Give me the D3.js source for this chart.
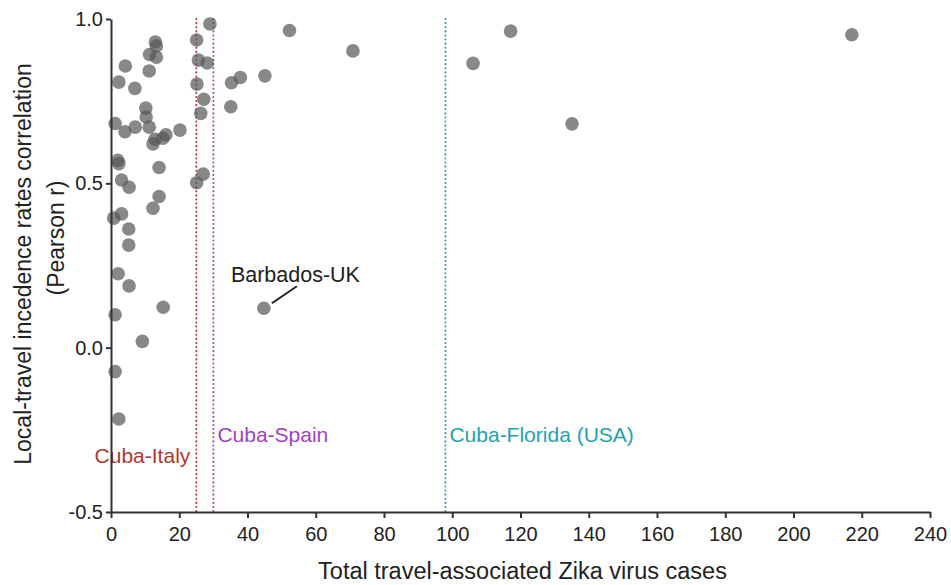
<!DOCTYPE html>
<html lang="en">
<head>
<meta charset="utf-8">
<title>Travel-associated Zika cases vs correlation</title>
<script src="https://cdn.jsdelivr.net/npm/d3@7"></script>
<style>
  body { margin: 0; background: #fff; }
  text { font-family: "Liberation Sans", Arial, Helvetica, sans-serif; fill: #222; }
</style>
</head>
<body>
<script>
// Data: x = total travel-associated cases, y = Pearson r
var cases = [13.0, 13.3, 11.3, 13.3, 4.2, 11.2, 2.3, 7.0, 10.2, 10.3,
             1.2, 4.1, 7.1, 11.2, 16.1, 20.2, 12.9, 15.2, 12.3, 2.0,
             2.3, 14.1, 3.1, 5.3, 14.1, 12.3, 3.1, 0.8, 5.2, 5.2,
             2.1, 5.3, 15.3, 1.2, 9.2, 1.2, 2.3,
             29.0, 25.1, 25.6, 28.2, 25.2, 27.2, 26.3, 27.0, 25.1,
             35.3, 37.9, 35.1, 45.1, 52.3, 70.9, 44.8, 106.1, 117.1, 135.1, 217.1];
var pearson = [0.930, 0.918, 0.892, 0.884, 0.857, 0.842, 0.808, 0.789, 0.729, 0.702,
               0.682, 0.657, 0.671, 0.671, 0.648, 0.662, 0.634, 0.637, 0.620, 0.570,
               0.560, 0.548, 0.510, 0.488, 0.460, 0.424, 0.407, 0.394, 0.361, 0.312,
               0.225, 0.188, 0.123, 0.100, 0.019, -0.073, -0.217,
               0.985, 0.936, 0.875, 0.866, 0.802, 0.756, 0.713, 0.528, 0.502,
               0.806, 0.822, 0.733, 0.827, 0.965, 0.903, 0.120, 0.865, 0.963, 0.681, 0.952];

// reference lines (cases)
var refNames = ["Cuba-Italy", "Cuba-Spain", "Cuba-Florida (USA)"];
var refCases = [25, 30, 98];
var refColors = ["#b0372c", "#a43fc4", "#1fa3b3"];

var xTicks = [0, 20, 40, 60, 80, 100, 120, 140, 160, 180, 200, 220, 240];
var yTicks = [-0.5, 0.0, 0.5, 1.0];

var w = 951, h = 585;
var margin = {top: 19, right: 21, bottom: 73, left: 111};

var svg = d3.select("body").append("svg")
  .attr("width", w)
  .attr("height", h);

var x = d3.scaleLinear().domain([0, 240]).range([margin.left, w - margin.right]);
var y = d3.scaleLinear().domain([-0.5, 1.0]).range([h - margin.bottom, margin.top]);

// dotted reference lines
var refs = svg.append("g");
refCases.forEach(function(c, i) {
  refs.append("line")
    .attr("x1", x(c)).attr("x2", x(c))
    .attr("y1", y(1.0)).attr("y2", y(-0.5))
    .attr("stroke", refColors[i])
    .attr("stroke-width", 2)
    .attr("stroke-linecap", "round")
    .attr("stroke-dasharray", "0.1,4");
});

// reference line labels
var labelY = [463, 442, 442];
refNames.forEach(function(n, i) {
  refs.append("text")
    .attr("x", i === 0 ? x(refCases[i]) - 6 : x(refCases[i]) + 4)
    .attr("y", labelY[i])
    .attr("text-anchor", i === 0 ? "end" : "start")
    .style("font-size", "21px")
    .style("fill", refColors[i])
    .text(n);
});

// points
svg.append("g").selectAll("circle")
  .data(d3.range(cases.length))
  .enter()
  .append("circle")
  .attr("cx", function(i) { return x(cases[i]); })
  .attr("cy", function(i) { return y(pearson[i]); })
  .attr("r", 6.8)
  .attr("fill", "#555")
  .attr("fill-opacity", 0.7);

// Barbados-UK annotation
var bx = 44.8, by = 0.120;
svg.append("line")
  .attr("x1", x(bx) + 8).attr("y1", y(by) - 5)
  .attr("x2", x(bx) + 33).attr("y2", y(by) - 22)
  .attr("stroke", "#222")
  .attr("stroke-width", 2);
svg.append("text")
  .attr("x", x(bx) - 33)
  .attr("y", y(by) - 26)
  .style("font-size", "21.5px")
  .text("Barbados-UK");

// axes
var xAxis = svg.append("g")
  .attr("transform", "translate(0," + (h - margin.bottom) + ")")
  .call(d3.axisBottom(x).tickValues(xTicks).tickFormat(d3.format("d"))
        .tickSize(6).tickSizeOuter(0).tickPadding(9));

var yAxis = svg.append("g")
  .attr("transform", "translate(" + margin.left + ",0)")
  .call(d3.axisLeft(y).tickValues(yTicks).tickFormat(d3.format(".1f"))
        .tickSize(5).tickSizeOuter(0).tickPadding(3));

[xAxis, yAxis].forEach(function(a) {
  a.select(".domain").attr("stroke", "#333").attr("stroke-width", 2);
  a.selectAll(".tick line").attr("stroke", "#333").attr("stroke-width", 2);
  a.selectAll(".tick text").style("font-size", "20px").attr("fill", "#222")
    .style("font-family", "'Liberation Sans', Arial, sans-serif");
});
yAxis.selectAll(".tick text").text(function(d) { return d < 0 ? "-0.5" : d3.format(".1f")(d); });

// axis titles
svg.append("text")
  .attr("x", (margin.left + w - margin.right) / 2 + 2)
  .attr("y", 579)
  .attr("text-anchor", "middle")
  .style("font-size", "23.5px")
  .text("Total travel-associated Zika virus cases");

svg.append("text")
  .attr("transform", "translate(31,264) rotate(-90)")
  .attr("text-anchor", "middle")
  .style("font-size", "23px")
  .text("Local-travel incedence rates correlation");

svg.append("text")
  .attr("transform", "translate(64,238) rotate(-90)")
  .attr("text-anchor", "middle")
  .style("font-size", "23px")
  .text("(Pearson r)");
</script>
</body>
</html>
